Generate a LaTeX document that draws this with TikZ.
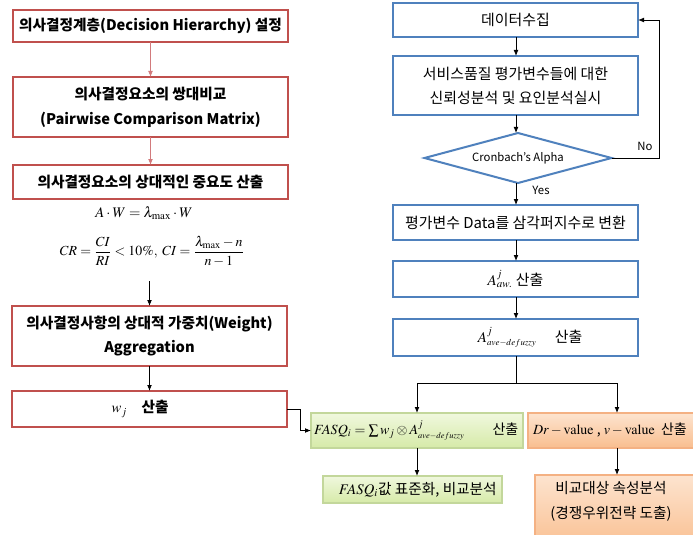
\documentclass[tikz,border=0pt]{standalone}
\usepackage{mathptmx}
\usepackage[no-math]{fontspec}
\setmainfont{Noto Sans CJK KR}
\usetikzlibrary{shapes.geometric,arrows.meta}
\definecolor{redb}{HTML}{C0504D}
\definecolor{redarr}{HTML}{D27A7C}
\definecolor{blueb}{HTML}{4F81BD}
\definecolor{greenb}{HTML}{C3D79B}
\definecolor{greentop}{HTML}{F0F8DE}
\definecolor{greenbot}{HTML}{D6EAA8}
\definecolor{orangeb}{HTML}{F4B183}
\definecolor{orangetop}{HTML}{FDE4CF}
\definecolor{orangebot}{HTML}{F9BE8F}
\newcommand{\defz}{{\scriptscriptstyle ave-defuzzy}}
\begin{document}
\begin{tikzpicture}[x=0.75pt,y=-0.75pt,
  every node/.style={inner sep=0pt, outer sep=0pt},
  rbox/.style={draw=redb, line width=1.8pt, fill=white, minimum width=206.25pt, align=center, font=\bfseries\fontsize{11}{18.5}\selectfont},
  bbox/.style={draw=blueb, line width=1.5pt, fill=white, minimum width=183.75pt, align=center, font=\fontsize{11.2}{18}\selectfont},
  gbox/.style={draw=greenb, line width=0.8pt, top color=greentop, bottom color=greenbot, align=center, font=\fontsize{11}{14}\selectfont},
  obox/.style={draw=orangeb, line width=0.8pt, top color=orangetop, bottom color=orangebot, align=center, font=\fontsize{11}{19}\selectfont},
  dbox/.style={diamond, aspect=3.74, draw=blueb, line width=1.5pt, fill=white, minimum width=140.25pt, minimum height=37.5pt, font=\fontsize{8.5}{10}\selectfont},
  arr/.style={-{Latex[length=4.5pt,width=3.6pt]}, line width=0.6pt},
  lbl/.style={font=\fontsize{8.5}{10}\selectfont},
  fml/.style={font=\fontsize{11}{13}\selectfont}
]
\clip (0,0) rectangle (693,535);
\fill[white] (0,0) rectangle (693,535);

% left column
\node[rbox, minimum height=24pt] (L1) at (150.5,26) {의사결정계층(Decision Hierarchy) 설정};
\node[rbox, minimum height=45pt] (L2) at (150.5,107) {의사결정요소의 쌍대비교\\(Pairwise Comparison Matrix)};
\node[rbox, minimum height=25.5pt] (L3) at (150.5,182) {의사결정요소의 상대적인 중요도 산출};
\node[fml] (F1) at (144,213) {$A\cdot W=\lambda_{\max}\cdot W$};
\node[fml, font=\fontsize{10.4}{13}\selectfont] (F2) at (152,251) {$CR=\displaystyle\frac{CI}{RI}<10\%,\ CI=\frac{\lambda_{\max}-n}{n-1}$};
\coordinate (Fa) at (149.5,281);
\node[rbox, minimum height=45pt] (L4) at (149.5,336) {의사결정사항의 상대적 가중치(Weight)\\Aggregation};
\node[rbox, minimum height=27pt] (L5) at (149.5,409) {$w_j$\quad 산출\hspace*{14pt}};

\draw[arr, draw=redarr, -{Latex[length=4.5pt,width=3.6pt,fill=redarr]}] (L1) -- (L2);
\draw[arr, draw=redarr, -{Latex[length=4.5pt,width=3.6pt,fill=redarr]}] (L2) -- (L3);
\draw[arr] (Fa) -- (L4.north);
\draw[arr] (L4) -- (L5);

% right column
\node[bbox, minimum height=25.5pt] (R1) at (515.5,20) {데이터수집};
\node[bbox, minimum height=44.25pt] (R2) at (515.5,85.5) {서비스품질 평가변수들에 대한\\신뢰성분석 및 요인분석실시};
\node[dbox] (D) at (518,158) {Cronbach's Alpha};
\node[bbox, minimum height=26.25pt] (R3) at (515.5,222.5) {평가변수 Data를 삼각퍼지수로 변환};
\node[bbox, minimum height=27pt] (R4) at (515.5,279) {$A^{j}_{aw.}$ 산출};
\node[bbox, minimum height=27.75pt] (R5) at (515.5,337.5) {\hspace*{22pt}$A^{j}_{\defz}$\quad\ 산출};

\draw[arr] (R1.south -| 516,0) -- (R2.north -| 516,0);
\draw[arr] (R2.south -| 516,0) -- (D.north -| 516,0);
\draw[arr] (D.south -| 516,0) -- (R3.north -| 516,0);
\draw[arr] (R3.south -| 516,0) -- (R4.north -| 516,0);
\draw[arr] (R4.south -| 516,0) -- (R5.north -| 516,0);
\coordinate (Lp) at (659,158);
\draw[arr] (D.east) -- (Lp) |- (R1.east);
\node[lbl] (No) at (645,146) {No};
\node[lbl] (Yes) at (541,190) {Yes};

% bottom
\node[gbox, minimum width=159pt, minimum height=26.25pt] (G1) at (417,430.5) {};
\node[anchor=west, font=\fontsize{10.5}{14}\selectfont] (G1t) at (314,430.5) {$FASQ_{i}=\sum w_j\otimes A^{j}_{\defz}$\qquad 산출};
\node[obox, minimum width=132.75pt, minimum height=26.25pt] (O1) at (616.5,430.5) {};
\node[anchor=west, font=\fontsize{10.5}{14}\selectfont] (O1t) at (533,430.5) {$Dr-\mathrm{value}$ , $v-\mathrm{value}$\ \ 산출};
\node[gbox, minimum width=134.25pt, minimum height=20.25pt] (G2) at (412.5,489.5) {\hspace*{8pt}$FASQ_i$값 표준화, 비교분석};
\node[obox, minimum width=127.5pt, minimum height=56.25pt] (O2) at (620,512.5) {};
\node[align=center, font=\fontsize{11}{19}\selectfont] (O2t) at (611,501.5) {비교대상 속성분석\\(경쟁우위전략 도출)};

\coordinate (S) at (516,383);
\draw[line width=0.6pt] (R5.south -| S) -- (S);
\draw[arr] (S) -| (G1.north -| 417,0);
\draw[arr] (S) -| (O1.north -| 617,0);
\draw[arr] (G1.south -| 417,0) -- (G2.north -| 417,0);
\draw[arr] (O1.south -| 617,0) -- (O2.north -| 617,0);
\draw[arr] (L5.east) -- ++(13,0) |- (G1.west);
\end{tikzpicture}
\end{document}
